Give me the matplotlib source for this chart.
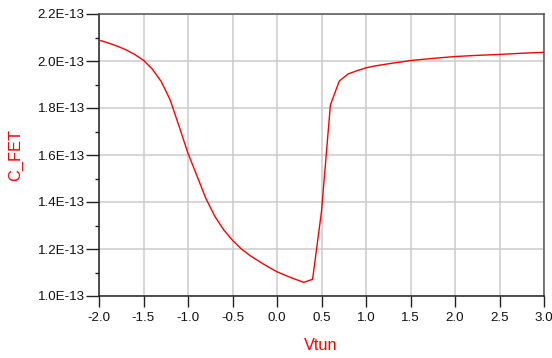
import matplotlib
matplotlib.use("Agg")
import matplotlib.pyplot as plt
import numpy as np

vtun = [-2.0, -1.9, -1.8, -1.7, -1.6, -1.5, -1.4, -1.3, -1.2, -1.1, -1.0,
        -0.9, -0.8, -0.7, -0.6, -0.5, -0.4, -0.3, -0.2, -0.1, 0.0,
        0.1, 0.2, 0.3, 0.4, 0.5, 0.6, 0.7, 0.8, 0.9, 1.0,
        1.1, 1.2, 1.3, 1.4, 1.5, 1.75, 2.0, 2.25, 2.5, 2.75, 3.0]
c_fet_e13 = [2.089, 2.077, 2.064, 2.048, 2.028, 2.003, 1.965, 1.912, 1.834, 1.722, 1.607,
             1.512, 1.416, 1.340, 1.282, 1.237, 1.200, 1.171, 1.147, 1.124, 1.103,
             1.087, 1.072, 1.058, 1.071, 1.360, 1.813, 1.915, 1.945, 1.959, 1.971,
             1.979, 1.985, 1.991, 1.996, 2.002, 2.011, 2.019, 2.024, 2.028, 2.033, 2.037]
c_fet = [v * 1e-13 for v in c_fet_e13]

xticks = [-2.0, -1.5, -1.0, -0.5, 0.0, 0.5, 1.0, 1.5, 2.0, 2.5, 3.0]
yticks = [1.0e-13, 1.2e-13, 1.4e-13, 1.6e-13, 1.8e-13, 2.0e-13, 2.2e-13]
ytick_labels = ["1.0E-13", "1.2E-13", "1.4E-13", "1.6E-13", "1.8E-13", "2.0E-13", "2.2E-13"]
yminor = [1.1e-13, 1.3e-13, 1.5e-13, 1.7e-13, 1.9e-13, 2.1e-13]

plt.rcParams['font.family'] = ['Liberation Sans', 'DejaVu Sans']

fig = plt.figure(figsize=(5.52, 3.58), dpi=100)
W, H = 552, 358
L, R, T, B = 99, 544, 14, 296
ax = fig.add_axes([L / W, (H - B) / H, (R - L) / W, (B - T) / H])

ax.plot(vtun, c_fet, color='#ff0000', lw=1.0, zorder=3)

ax.set_xlim(-2.0, 3.0)
ax.set_ylim(1.0e-13, 2.2e-13)
ax.set_xticks(xticks)
ax.set_xticklabels([f"{v:.1f}" for v in xticks])
ax.set_yticks(yticks)
ax.set_yticklabels(ytick_labels)
ax.set_yticks(yminor, minor=True)

ax.grid(True, which='major', color='#cccccc', lw=1.1, zorder=0)
ax.set_axisbelow(True)

for s in ax.spines.values():
    s.set_color('#555555')
    s.set_linewidth(1.1)
ax.spines['left'].set_color('#222222')
ax.spines['bottom'].set_color('#222222')

ax.tick_params(axis='y', which='major', length=9.4, width=1.0, color='#222222',
               labelsize=9.6, labelcolor='#111111', pad=0.8, direction='out')
ax.tick_params(axis='y', which='minor', length=3.0, width=1.0, color='#222222', direction='out')
ax.tick_params(axis='x', which='major', length=8.0, width=1.0, color='#222222',
               labelsize=9.6, labelcolor='#111111', pad=3.5, direction='out')

fig.text(16 / W, 1 - 155 / H, "C_FET", color='#ff0000', fontsize=11.8,
         rotation=90, ha='center', va='center')
fig.text(321 / W, 1 - 346 / H, "Vtun", color='#ff0000', fontsize=11.8,
         ha='center', va='center')

fig.savefig("out.png", dpi=100)
